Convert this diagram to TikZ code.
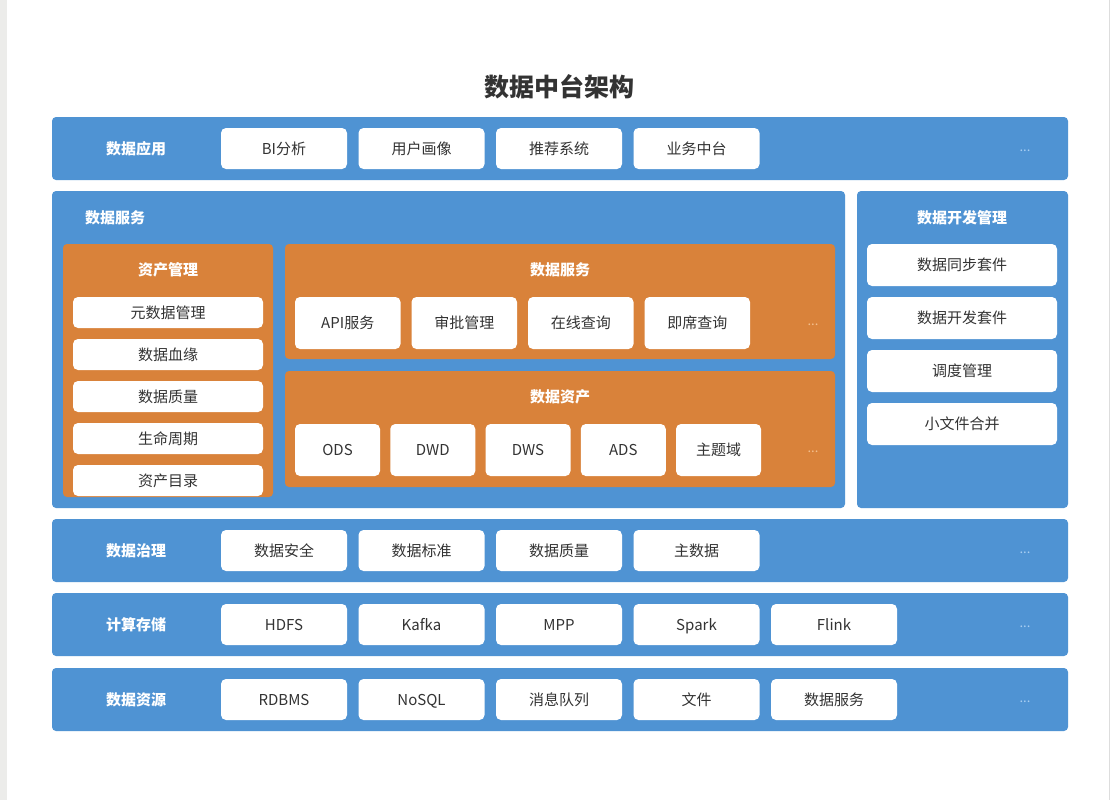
\documentclass[tikz,border=0pt]{standalone}
\usepackage{fontspec}
\setmainfont{Noto Sans CJK SC}
\usepackage{tikz}
\usetikzlibrary{positioning}

\definecolor{panelblue}{HTML}{4F93D3}
\definecolor{panelorange}{HTML}{D9823A}
\definecolor{inktext}{HTML}{333333}
\definecolor{dotblue}{HTML}{A9CFF2}
\definecolor{dotorange}{HTML}{F3BF8E}
\definecolor{sidegray}{HTML}{ECECEA}
\definecolor{edgegray}{HTML}{DDDDDD}

\begin{document}
\begin{tikzpicture}[x=1pt, y=-1pt,
    node distance=11pt,            % gap between neighbouring boxes
    panel/.style={fill=panelblue, rounded corners=4pt},
    subpanel/.style={fill=panelorange, rounded corners=4pt},
    item/.style={rectangle,
                 fill=white,
                 rounded corners=5pt,
                 inner sep=0pt,
                 outer sep=0pt,
                 text height=13pt,
                 text depth=2pt,
                 text=inktext,
                 font=\fontsize{15}{18}\selectfont},
    rowitem/.style={item, minimum width=126pt, minimum height=41pt},
    layerlabel/.style={text=white, text height=13pt, text depth=2pt,
                       font=\bfseries\fontsize{15}{18}\selectfont},
    moredots/.style={font=\fontsize{13}{14}\selectfont}]

  % Page and margins
  \useasboundingbox (0,0) rectangle (1113,800);
  \fill[white] (0,0) rectangle (1113,800);
  \fill[sidegray] (0,0) rectangle (7,800);
  \draw[edgegray] (1109.5,0) -- (1109.5,800);

  % Title
  \node[text=inktext, font=\bfseries\fontsize{25}{30}\selectfont] (title) at (559,87) {数据中台架构};

  % Layer: 数据应用
  \fill[panel] (52,117) rectangle (1068,180);
  \node[layerlabel] (appLabel) at (136,148.5) {数据应用};
  \node[rowitem, anchor=west] (appBI) at (221,148.5) {BI分析};
  \node[rowitem, right=11.5pt of appBI] (appUser) {用户画像};
  \node[rowitem, right=11.5pt of appUser] (appRec) {推荐系统};
  \node[rowitem, right=11.5pt of appRec] (appBiz) {业务中台};
  \node[moredots, text=dotblue] (appMore) at (1025,151) {...};

  % Panel: 数据服务
  \fill[panel] (52,191) rectangle (845,508);
  \node[layerlabel] (svcLabel) at (115,217.5) {数据服务};

  % 资产管理
  \fill[subpanel] (63,244) rectangle (273,497);
  \node[layerlabel] (assetMgr) at (168,270) {资产管理};
  \node[item, minimum width=190pt, minimum height=31pt] (meta) at (168,312.5) {元数据管理};
  \node[item, minimum width=190pt, minimum height=31pt, below=11pt of meta] (lineage) {数据血缘};
  \node[item, minimum width=190pt, minimum height=31pt, below=11pt of lineage] (quality) {数据质量};
  \node[item, minimum width=190pt, minimum height=31pt, below=11pt of quality] (lifecycle) {生命周期};
  \node[item, minimum width=190pt, minimum height=31pt, below=11pt of lifecycle] (catalog) {资产目录};

  % 数据服务 (orange)
  \fill[subpanel] (285,244) rectangle (835,359);
  \node[layerlabel] (svcTitle) at (560,270) {数据服务};
  \node[item, minimum width=105.5pt, minimum height=52pt, anchor=west] (api) at (295,323) {API服务};
  \node[item, minimum width=105.5pt, minimum height=52pt, right=of api] (approve) {审批管理};
  \node[item, minimum width=105.5pt, minimum height=52pt, right=of approve] (online) {在线查询};
  \node[item, minimum width=105.5pt, minimum height=52pt, right=of online] (adhoc) {即席查询};
  \node[moredots, text=dotorange] (svcMore) at (813,325) {...};

  % 数据资产
  \fill[subpanel] (285,371) rectangle (835,487);
  \node[layerlabel] (dataAsset) at (560,397) {数据资产};
  \node[item, minimum width=85pt, minimum height=52pt, anchor=west] (ods) at (295,450) {ODS};
  \node[item, minimum width=85pt, minimum height=52pt, right=10.25pt of ods] (dwd) {DWD};
  \node[item, minimum width=85pt, minimum height=52pt, right=10.25pt of dwd] (dws) {DWS};
  \node[item, minimum width=85pt, minimum height=52pt, right=10.25pt of dws] (ads) {ADS};
  \node[item, minimum width=85pt, minimum height=52pt, right=10.25pt of ads] (subject) {主题域};
  \node[moredots, text=dotorange] (assetMore) at (813,452) {...};

  % Panel: 数据开发管理
  \fill[panel] (857,191) rectangle (1068,508);
  \node[layerlabel] (devLabel) at (962,217.5) {数据开发管理};
  \node[item, minimum width=190pt, minimum height=42pt] (sync) at (962,265) {数据同步套件};
  \node[item, minimum width=190pt, minimum height=42pt, below=of sync] (devkit) {数据开发套件};
  \node[item, minimum width=190pt, minimum height=42pt, below=of devkit] (sched) {调度管理};
  \node[item, minimum width=190pt, minimum height=42pt, below=of sched] (merge) {小文件合并};

  % Layer: 数据治理
  \fill[panel] (52,519) rectangle (1068,582);
  \node[layerlabel] (govLabel) at (136,550.5) {数据治理};
  \node[rowitem, anchor=west] (security) at (221,550.5) {数据安全};
  \node[rowitem, right=11.5pt of security] (standard) {数据标准};
  \node[rowitem, right=11.5pt of standard] (govQuality) {数据质量};
  \node[rowitem, right=11.5pt of govQuality] (master) {主数据};
  \node[moredots, text=dotblue] (govMore) at (1025,553) {...};

  % Layer: 计算存储
  \fill[panel] (52,593) rectangle (1068,656);
  \node[layerlabel] (compLabel) at (136,624.5) {计算存储};
  \node[rowitem, anchor=west] (hdfs) at (221,624.5) {HDFS};
  \node[rowitem, right=11.5pt of hdfs] (kafka) {Kafka};
  \node[rowitem, right=11.5pt of kafka] (mpp) {MPP};
  \node[rowitem, right=11.5pt of mpp] (spark) {Spark};
  \node[rowitem, right=11.5pt of spark] (flink) {Flink};
  \node[moredots, text=dotblue] (compMore) at (1025,627) {...};

  % Layer: 数据资源
  \fill[panel] (52,668) rectangle (1068,731);
  \node[layerlabel] (srcLabel) at (136,699.5) {数据资源};
  \node[rowitem, anchor=west] (rdbms) at (221,699.5) {RDBMS};
  \node[rowitem, right=11.5pt of rdbms] (nosql) {NoSQL};
  \node[rowitem, right=11.5pt of nosql] (queue) {消息队列};
  \node[rowitem, right=11.5pt of queue] (files) {文件};
  \node[rowitem, right=11.5pt of files] (dataSvc) {数据服务};
  \node[moredots, text=dotblue] (srcMore) at (1025,702) {...};

\end{tikzpicture}
\end{document}
